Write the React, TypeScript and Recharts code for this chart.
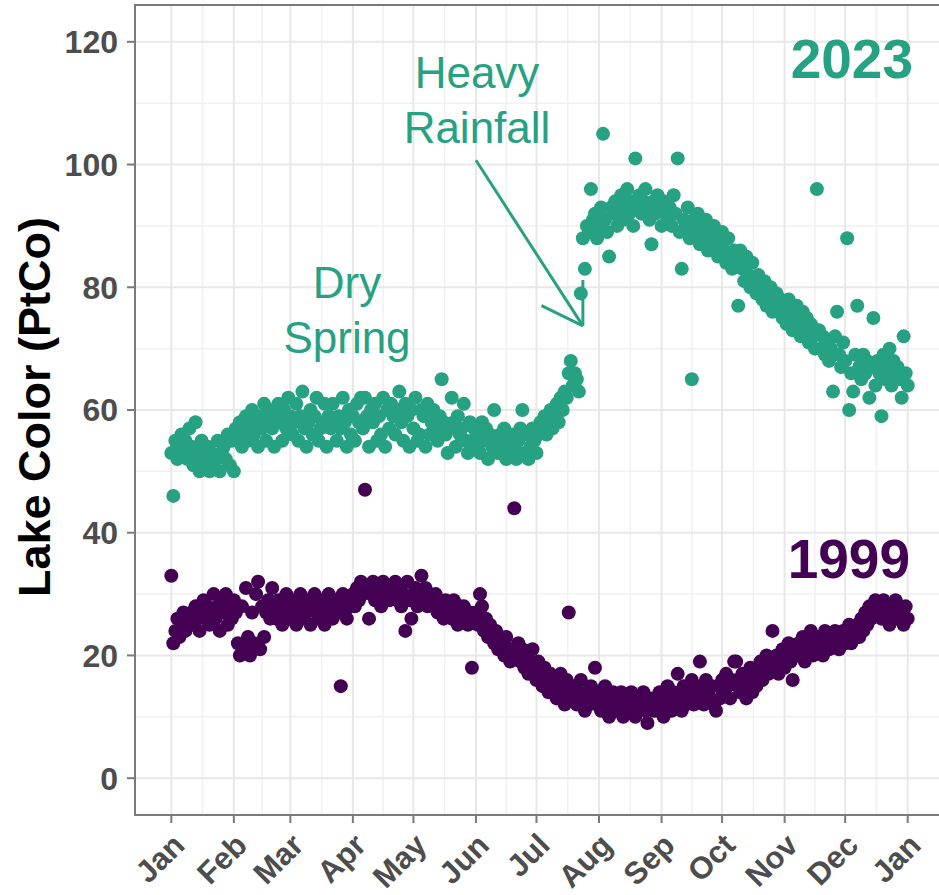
import React from 'react';
import {
  ScatterChart,
  Scatter,
  XAxis,
  YAxis,
  CartesianGrid,
  ReferenceLine,
  ReferenceArea,
} from 'recharts';

const TEAL = '#26A282';
const PURPLE = '#440154';
const FONT = '"Liberation Sans", Arial, Helvetica, sans-serif';

const monthLabels = ['Jan', 'Feb', 'Mar', 'Apr', 'May', 'Jun', 'Jul', 'Aug', 'Sep', 'Oct', 'Nov', 'Dec', 'Jan'];
const monthStartDays = [0, 31, 59, 90, 120, 151, 181, 212, 243, 273, 304, 334, 365];
const minorDays = [15.5, 45, 74.5, 105, 135.5, 166, 196.5, 227.5, 258, 288.5, 319, 349.5];
const yTicks = [0, 20, 40, 60, 80, 100, 120];
const yMinor = [10, 30, 50, 70, 90, 110];

// daily lake colour, index = day of year (0 = Jan 1)
const lake2023 = [
  53, 46, 55, 52, 54, 56, 53, 55, 52, 57,
  54, 51, 58, 53, 50, 55, 52, 51, 54, 50,
  53, 51, 52, 55, 50, 53, 54, 52, 56, 51,
  55, 50, 57, 55, 58, 54, 56, 59, 55, 57,
  60, 56, 58, 54, 59, 57, 61, 55, 58, 60,
  57, 54, 59, 61, 58, 55, 60, 57, 62, 59,
  56, 58, 61, 55, 59, 63, 57, 54, 58, 60,
  56, 59, 62, 55, 57, 58, 61, 54, 59, 57,
  61, 58, 55, 59, 57, 62, 58, 54, 60, 56,
  59, 55, 61, 58, 62, 57, 62, 59, 54, 60,
  58, 61, 55, 59, 56, 62, 54, 60, 57, 61,
  59, 56, 60, 63, 58, 55, 61, 59, 54, 60,
  57, 62, 55, 56, 60, 59, 54, 61, 56, 58,
  60, 57, 55, 59, 65, 58, 56, 53, 57, 62,
  58, 54, 59, 56, 57, 61, 55, 53, 58, 55,
  57, 54, 56, 53, 58, 55, 57, 52, 56, 54,
  60, 55, 53, 56, 54, 57, 52, 55, 53, 56,
  54, 52, 55, 57, 60, 53, 56, 52, 54, 57,
  55, 53, 56, 58, 57, 59, 56, 58, 60, 57,
  59, 61, 58, 62, 60, 63, 62, 66, 68, 64,
  66, 65, 63, 79, 88, 83, 90, 89, 96, 91,
  92, 88, 90, 93, 105, 91, 89, 85, 93, 92,
  94, 90, 92, 95, 91, 93, 96, 92, 94, 90,
  101, 93, 95, 92, 94, 96, 93, 91, 87, 94,
  92, 95, 93, 90, 94, 92, 91, 93, 90, 95,
  92, 101, 89, 83, 91, 90, 93, 88, 65, 91,
  89, 92, 87, 90, 88, 91, 86, 89, 87, 90,
  88, 85, 87, 89, 86, 84, 88, 85, 83, 86,
  84, 77, 86, 83, 81, 85, 82, 80, 84, 81,
  79, 82, 80, 78, 81, 77, 79, 80, 76, 78,
  79, 76, 78, 75, 77, 74, 78, 76, 73, 75,
  77, 74, 72, 76, 73, 75, 71, 74, 72, 70,
  96, 73, 70, 72, 69, 71, 68, 70, 63, 72,
  76, 69, 67, 71, 68, 88, 60, 66, 63, 69,
  77, 67, 65, 69, 66, 68, 62, 67, 75, 64,
  68, 66, 59, 69, 65, 67, 70, 64, 68, 66,
  67, 65, 62, 72, 66, 64,
];

const lake1999 = [
  33, 22, 24, 26, 23, 25, 27, 24, 26, 25,
  27, 25, 28, 26, 24, 27, 29, 26, 28, 25,
  27, 30, 26, 28, 24, 29, 27, 30, 25, 28,
  26, 29, 27, 22, 20, 28, 21, 31, 23, 20,
  27, 22, 30, 32, 21, 28, 23, 27, 29, 26,
  31, 28, 26, 29, 27, 25, 28, 30, 27, 26,
  29, 27, 25, 28, 30, 26, 28, 27, 29, 25,
  28, 30, 27, 26, 29, 28, 25, 27, 30, 28,
  26, 29, 27, 28, 15, 30, 27, 26, 29, 28,
  30, 28, 31, 29, 32, 30, 47, 31, 26, 30,
  32, 29, 31, 30, 28, 32, 30, 31, 29, 31,
  30, 32, 29, 31, 28, 30, 24, 32, 29, 26,
  30, 31, 28, 30, 33, 29, 31, 28, 30, 29,
  28, 30, 27, 29, 28, 26, 29, 27, 28, 26,
  29, 27, 25, 28, 26, 28, 27, 25, 27, 18,
  26, 27, 25, 30, 28, 24, 26, 23, 25, 24,
  22, 24, 21, 23, 22, 20, 23, 21, 19, 21,
  44, 20, 22, 19, 21, 18, 20, 17, 19, 21,
  18, 16, 19, 17, 15, 18, 16, 14, 17, 15,
  16, 13, 15, 17, 14, 12, 16, 27, 14, 13,
  15, 12, 14, 16, 13, 11, 14, 12, 15, 13,
  18, 12, 14, 11, 13, 15, 12, 10, 13, 14,
  11, 13, 12, 14, 10, 12, 13, 11, 14, 12,
  10, 13, 11, 12, 14, 11, 9, 12, 13, 11,
  13, 11, 14, 12, 10, 13, 15, 12, 11, 14,
  12, 17, 13, 11, 15, 12, 14, 13, 16, 12,
  14, 13, 19, 15, 12, 16, 14, 13, 15, 12,
  11, 15, 13, 16, 14, 17, 15, 13, 16, 19,
  19, 15, 14, 17, 15, 13, 16, 18, 14, 16,
  15, 17, 19, 16, 18, 20, 17, 19, 24, 18,
  20, 17, 19, 21, 18, 20, 22, 19, 16, 21,
  20, 22, 21, 23, 19, 22, 21, 24, 20, 22,
  21, 23, 22, 20, 24, 22, 21, 23, 22, 24,
  23, 21, 22, 24, 22, 23, 25, 22, 24, 23,
  25, 23, 26, 24, 27, 25, 28, 26, 28, 29,
  27, 28, 26, 29, 27, 28, 25, 28, 27, 29,
  26, 28, 27, 25, 28, 26,
];

// annotation arrow in data coordinates (day, value)
const arrowShaft = [{ x: 151, y: 100.7 }, { x: 204, y: 73.7 }];
const arrowWingA = [{ x: 183.5, y: 77.0 }, { x: 204, y: 73.7 }];
const arrowWingB = [{ x: 204, y: 81.2 }, { x: 204, y: 73.7 }];

const data2023 = lake2023.map((v, i) => ({ day: i, color: v }));
const data1999 = lake1999.map((v, i) => ({ day: i, color: v }));

const XTick = (props: any) => {
  const { x, y, payload } = props;
  const idx = monthStartDays.indexOf(payload.value);
  return (
    <text
      transform={`translate(${x + 15},${y + 22}) rotate(-45)`}
      textAnchor="end"
      fontSize={31}
      fontWeight="bold"
      fill="#4d4d4d"
      fontFamily={FONT}
    >
      {monthLabels[idx]}
    </text>
  );
};

const dot = (fill: string) => (props: any) =>
  <circle cx={props.cx} cy={props.cy} r={7} fill={fill} />;

export default function App() {
  return (
    <div style={{ position: 'absolute', left: 0, top: 0, width: 939, height: 895, overflow: 'hidden', background: '#fff' }}>
      <ScatterChart width={950} height={895} margin={{ top: 5, right: 6, left: 0, bottom: 0 }}>
        <CartesianGrid stroke="#f1f1f1" strokeWidth={1.5} horizontalValues={yMinor} verticalValues={minorDays} />
        <CartesianGrid stroke="#e8e8e8" strokeWidth={2} />
        <XAxis
          dataKey="day"
          type="number"
          domain={[-18, 383]}
          ticks={monthStartDays}
          interval={0}
          allowDataOverflow
          height={80}
          tickSize={8}
          tickMargin={2}
          tick={<XTick />}
          axisLine={{ stroke: '#7a7a7a', strokeWidth: 2 }}
          tickLine={{ stroke: '#7a7a7a', strokeWidth: 2 }}
        />
        <YAxis
          dataKey="color"
          type="number"
          domain={[-6, 126]}
          ticks={yTicks}
          interval={0}
          allowDataOverflow
          width={135}
          tickSize={8}
          tickMargin={9}
          tick={{ fontSize: 32, fontWeight: 'bold', fill: '#4d4d4d', fontFamily: FONT }}
          axisLine={{ stroke: '#7a7a7a', strokeWidth: 2 }}
          tickLine={{ stroke: '#7a7a7a', strokeWidth: 2 }}
        />
        <ReferenceArea x1={-18} x2={383} y1={-6} y2={126} fill="none" stroke="#7a7a7a" strokeWidth={2} ifOverflow="visible" />
        <Scatter data={data1999} fill={PURPLE} shape={dot(PURPLE)} isAnimationActive={false} />
        <Scatter data={data2023} fill={TEAL} shape={dot(TEAL)} isAnimationActive={false} />
        <ReferenceLine segment={arrowShaft} stroke={TEAL} strokeWidth={3} />
        <ReferenceLine segment={arrowWingA} stroke={TEAL} strokeWidth={3} />
        <ReferenceLine segment={arrowWingB} stroke={TEAL} strokeWidth={3} />
      </ScatterChart>
      <svg width={939} height={895} style={{ position: 'absolute', left: 0, top: 0, pointerEvents: 'none' }}>
        <text
          transform="translate(50,407) rotate(-90)"
          textAnchor="middle"
          fontSize={45}
          fontWeight="bold"
          fill="#000"
          fontFamily={FONT}
        >
          Lake Color (PtCo)
        </text>
        <text x={913} y={78} textAnchor="end" fontSize={55} fontWeight="bold" fill={TEAL} fontFamily={FONT}>2023</text>
        <text x={910} y={578} textAnchor="end" fontSize={55} fontWeight="bold" fill={PURPLE} fontFamily={FONT}>1999</text>
        <text textAnchor="middle" fontSize={44} fill={TEAL} fontFamily={FONT}>
          <tspan x={477} y={88}>Heavy</tspan>
          <tspan x={477} y={143}>Rainfall</tspan>
        </text>
        <text textAnchor="middle" fontSize={44} fill={TEAL} fontFamily={FONT}>
          <tspan x={347} y={298}>Dry</tspan>
          <tspan x={347} y={353}>Spring</tspan>
        </text>
      </svg>
    </div>
  );
}
